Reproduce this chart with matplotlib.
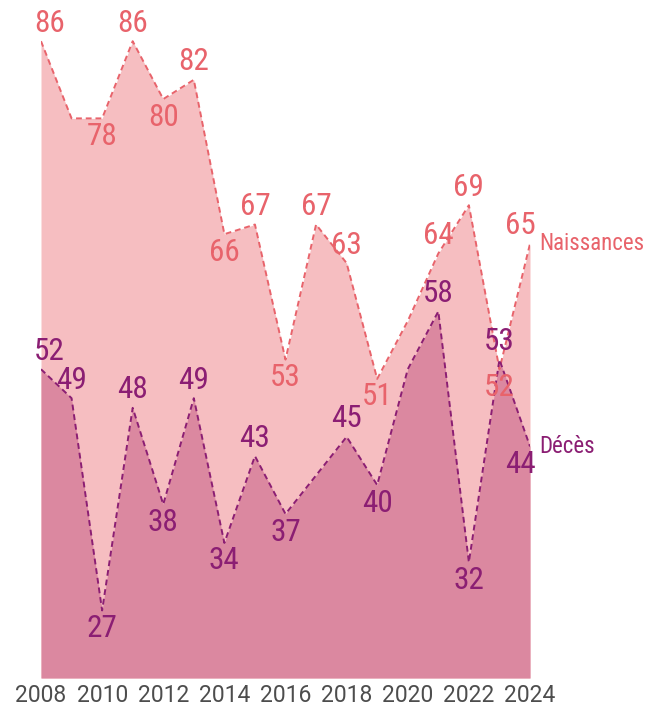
import matplotlib.pyplot as plt

plt.rcParams['font.family'] = ['Roboto Condensed', 'Roboto', 'DejaVu Sans']

# donnees
annees = list(range(2008, 2025))
naissances = [86, 78, 78, 86, 80, 82, 66, 67, 53, 67, 63, 51, 57, 64, 69, 52, 65]
deces = [52, 49, 27, 48, 38, 49, 34, 43, 37, 41, 45, 40, 52, 58, 32, 53, 44]
# annees dont l'etiquette n'est pas affichee
cache_naissances = [2009, 2020]
cache_deces = [2017, 2020]
ticks = list(range(2008, 2025, 2))

c_nais_fill = '#F6BEC1'
c_nais = '#E8636B'
c_dec_fill = '#DB88A0'
c_dec = '#8B1E73'

fig = plt.figure(figsize=(6.48, 7.12), dpi=100)
ax = fig.add_axes([41 / 648, 34 / 712, 489 / 648, 675.4 / 712])

ax.fill_between(annees, naissances, 20, color=c_nais_fill, lw=0)
ax.plot(annees, naissances, color=c_nais, lw=1.4, ls=(0, (3, 2)))
ax.fill_between(annees, deces, 20, color=c_dec_fill, lw=0)
ax.plot(annees, deces, color=c_dec, lw=1.4, ls=(0, (3, 2)))


def etiquettes(vals, cache, couleur):
    n = len(vals)
    for i in range(n):
        if annees[i] in cache:
            continue
        voisins = []
        if i > 0:
            voisins.append(vals[i - 1])
        if i < n - 1:
            voisins.append(vals[i + 1])
        bas = all(vals[i] <= v for v in voisins)
        dy = -13 if bas else 13
        dx = 0
        if i == 0:
            dx = 6
        elif i == n - 1:
            dx = -7
        ax.annotate(str(vals[i]), (annees[i], vals[i]), xytext=(dx, dy),
                    textcoords='offset points', ha='center', va='center',
                    fontsize=22.5, color=couleur, annotation_clip=False)


etiquettes(naissances, cache_naissances, c_nais)
etiquettes(deces, cache_deces, c_dec)

ax.annotate('Naissances', (annees[-1], naissances[-1]), xytext=(7, 0),
            textcoords='offset points', ha='left', va='center',
            fontsize=16.5, color=c_nais, annotation_clip=False)
ax.annotate('Décès', (annees[-1], deces[-1]), xytext=(7, 0),
            textcoords='offset points', ha='left', va='center',
            fontsize=16.5, color=c_dec, annotation_clip=False)

ax.set_xlim(2008, 2024)
ax.set_ylim(20, 90)
ax.set_xticks(ticks)
ax.set_xticklabels([str(t) for t in ticks], fontsize=16.5, color='#4D4D4D',
                   family=['Roboto', 'DejaVu Sans'])
ax.tick_params(axis='x', length=0, pad=4)
ax.set_yticks([])
for s in ax.spines.values():
    s.set_visible(False)

fig.savefig('out.png', dpi=100)
